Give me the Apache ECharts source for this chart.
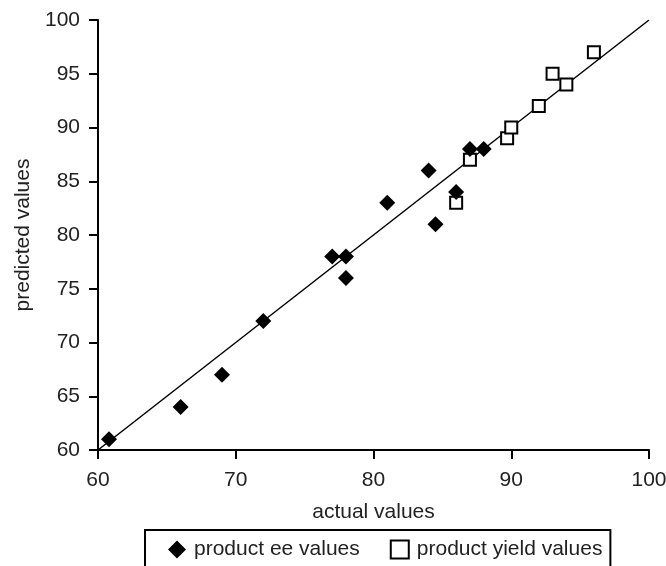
<!DOCTYPE html>
<html>
<head>
<meta charset="utf-8">
<script src="https://cdn.jsdelivr.net/npm/echarts@6/dist/echarts.min.js"></script>
<style>html,body{margin:0;padding:0;background:#fff}#c{width:666px;height:566px}</style>
</head>
<body>
<div id="c"></div>
<script>
const eeActual    = [60.8, 66, 69, 72, 77, 78, 78, 81, 84, 84.5, 86, 87, 88];
const eePredicted = [61, 64, 67, 72, 78, 78, 76, 83, 86, 81, 84, 88, 88];
const yieldActual    = [86, 87, 89.7, 90, 92, 93, 94, 96];
const yieldPredicted = [83, 87, 89, 90, 92, 95, 94, 97];
const fitLine = [[60, 60], [100, 100]];
const seriesNames = ['product ee values', 'product yield values'];
const xTicks = [60, 70, 80, 90, 100];
const yTicks = [60, 65, 70, 75, 80, 85, 90, 95, 100];

const pair = (a, b) => a.map((v, i) => [v, b[i]]);
const font = 'Liberation Sans, Arial, sans-serif';
const chart = echarts.init(document.getElementById('c'));
chart.setOption({
  animation: false,
  backgroundColor: '#fff',
  textStyle: { fontFamily: font },
  grid: { left: 98, right: 17, top: 20, bottom: 116, outerBoundsMode: 'none', containLabel: false },
  xAxis: {
    type: 'value', min: xTicks[0], max: xTicks[xTicks.length - 1], interval: 10,
    name: 'actual values', nameLocation: 'middle', nameGap: 52,
    nameTextStyle: { fontSize: 21, color: '#222', fontFamily: font },
    axisLine: { lineStyle: { color: '#000', width: 2 } },
    axisTick: { show: true, length: 9, lineStyle: { color: '#000', width: 2 } },
    axisLabel: { fontSize: 21, color: '#222', margin: 20, fontFamily: font },
    splitLine: { show: false }
  },
  yAxis: {
    type: 'value', min: yTicks[0], max: yTicks[yTicks.length - 1], interval: 5,
    name: 'predicted values', nameLocation: 'middle', nameGap: 63,
    nameTextStyle: { fontSize: 21, color: '#222', fontFamily: font },
    axisLine: { show: true, lineStyle: { color: '#000', width: 2 } },
    axisTick: { show: true, length: 9, lineStyle: { color: '#000', width: 2 } },
    axisLabel: { fontSize: 21, color: '#222', margin: 18, fontFamily: font },
    splitLine: { show: false }
  },
  legend: {
    data: seriesNames,
    left: 145, top: 530,
    padding: [9, 8, 20, 23],
    itemGap: 30, itemWidth: 18, itemHeight: 18,
    borderColor: '#000', borderWidth: 2,
    textStyle: { fontSize: 21, color: '#222', fontFamily: font, padding: [0, 0, 0, 3] }
  },
  series: [
    {
      type: 'line', data: fitLine, symbol: 'none', silent: true,
      lineStyle: { color: '#000', width: 1.5 }, z: 1
    },
    {
      name: seriesNames[0], type: 'scatter', data: pair(eeActual, eePredicted),
      symbol: 'diamond', symbolSize: 16,
      itemStyle: { color: '#000', opacity: 1 }, z: 3
    },
    {
      name: seriesNames[1], type: 'scatter', data: pair(yieldActual, yieldPredicted),
      symbol: 'rect', symbolSize: 12,
      itemStyle: { color: '#fff', borderColor: '#000', borderWidth: 2, opacity: 1 }, z: 2
    }
  ]
});
</script>
</body>
</html>
